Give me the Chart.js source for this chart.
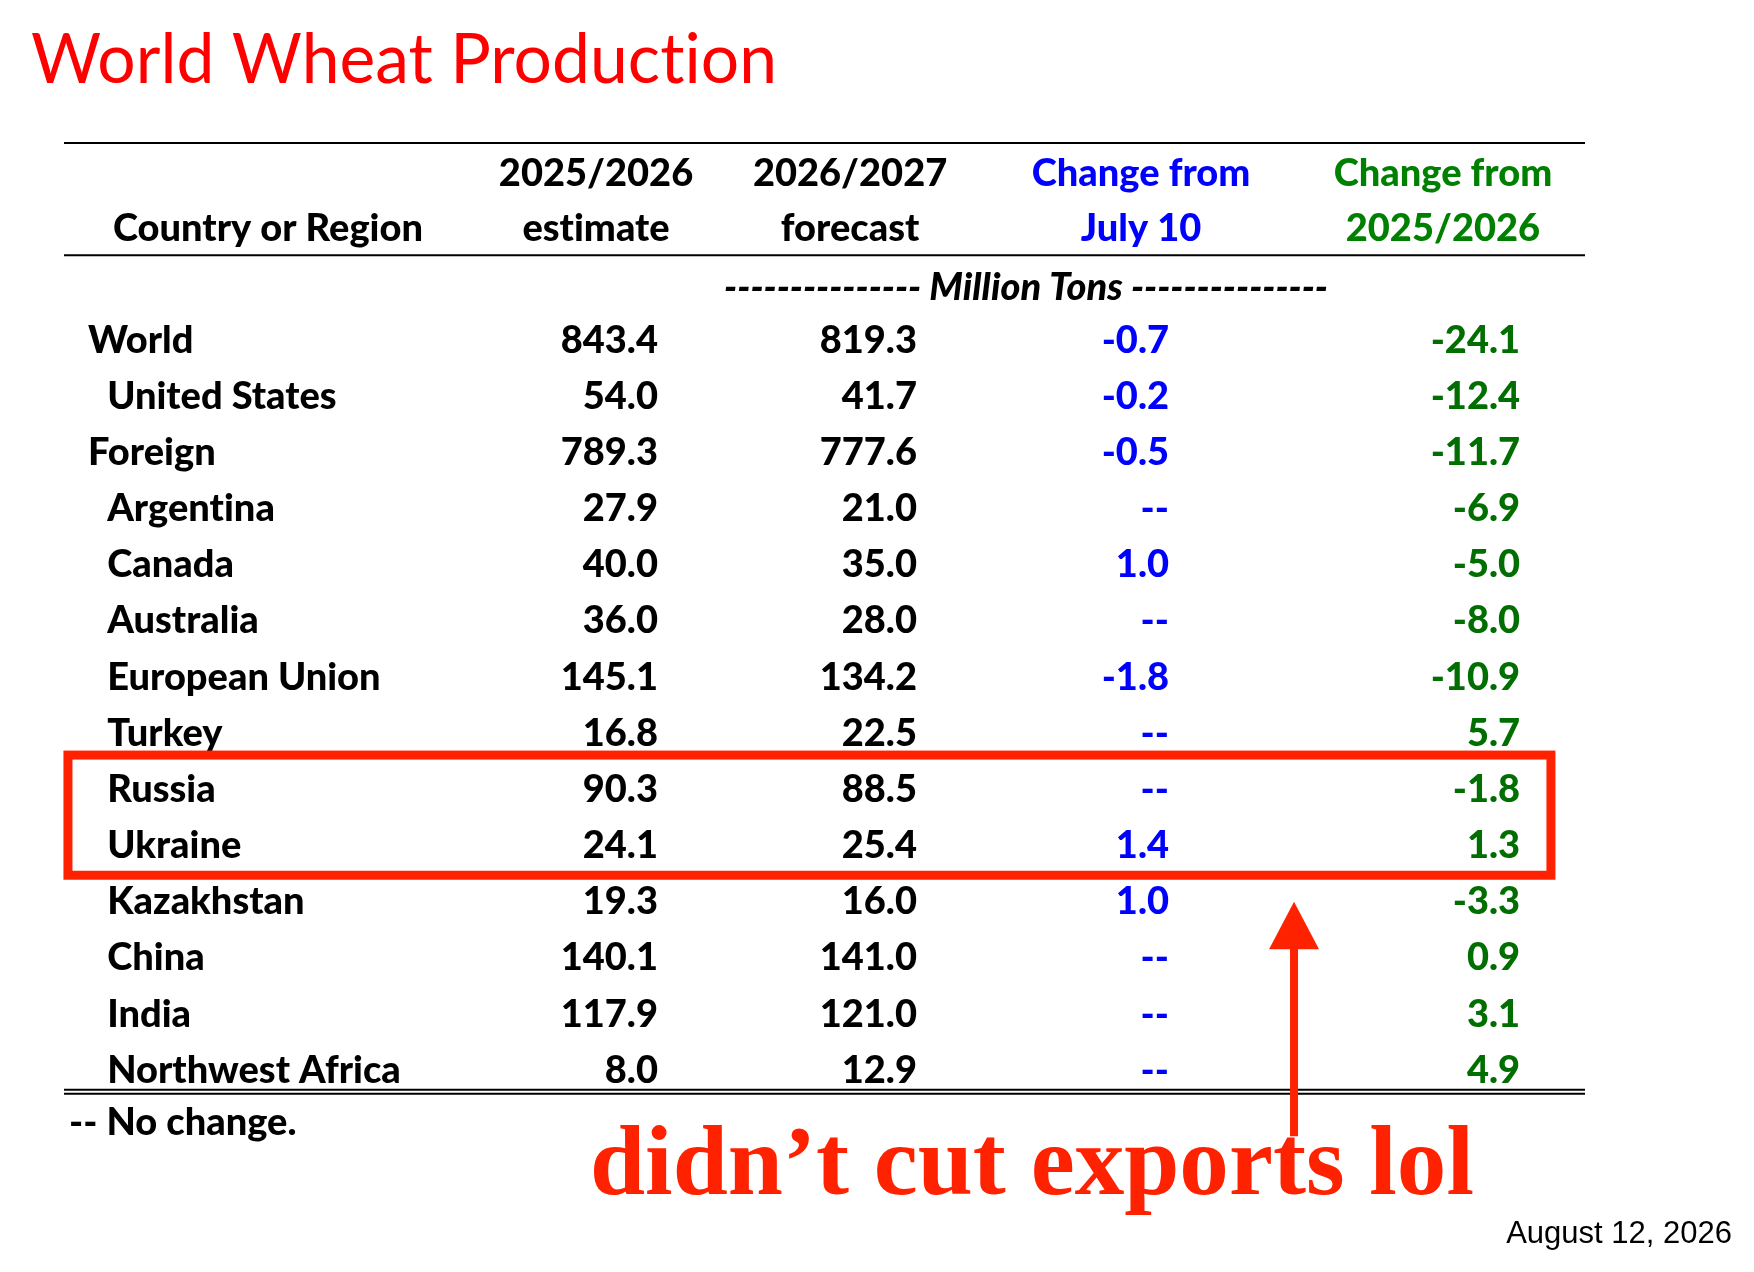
<!DOCTYPE html>
<html>
<head>
<meta charset="utf-8">
<title>World Wheat Production</title>
<script src="https://cdn.jsdelivr.net/npm/chart.js@4.4.1/dist/chart.umd.min.js"></script>
<style>
    html, body { margin: 0; padding: 0; background: #fff; }
    #wrap { width: 1754px; height: 1272px; position: relative; }
</style>
</head>
<body>
<div id="wrap"><canvas id="wheatChart"></canvas></div>
<script>
// Table data, million tons
const regions = ['World', 'United States', 'Foreign', 'Argentina', 'Canada', 'Australia',
    'European Union', 'Turkey', 'Russia', 'Ukraine', 'Kazakhstan', 'China', 'India', 'Northwest Africa'];
const aggregates = ['World', 'Foreign'];
const estimate2526 = [843.4, 54.0, 789.3, 27.9, 40.0, 36.0, 145.1, 16.8, 90.3, 24.1, 19.3, 140.1, 117.9, 8.0];
const forecast2627 = [819.3, 41.7, 777.6, 21.0, 35.0, 28.0, 134.2, 22.5, 88.5, 25.4, 16.0, 141.0, 121.0, 12.9];
const changeJuly10 = [-0.7, -0.2, -0.5, null, 1.0, null, -1.8, null, null, 1.4, 1.0, null, null, null];
const changeYear = [-24.1, -12.4, -11.7, -6.9, -5.0, -8.0, -10.9, 5.7, -1.8, 1.3, -3.3, 0.9, 3.1, 4.9];
const headerTop = ['', '2025/2026', '2026/2027', 'Change from', 'Change from'];
const headerBottom = ['Country or Region', 'estimate', 'forecast', 'July 10', '2025/2026'];
const unitLabel = 'Million Tons';
const highlighted = ['Russia', 'Ukraine'];

// Layout (x in % of table width, y in row units; row 0 = World)
const headerCenter = [13.41, 34.98, 51.68, 70.81, 90.66];
const valueRight = [39.05, 56.08, 72.65, 95.73];
const colColor = ['#000000', '#000000', '#000000', '#0000ff', '#008000'];
const valueColor = ['#000000', '#000000', '#0000ff', '#006e00'];
const BODY = '900 38px Lato';
const RED = '#ff2200';

function fmt(v) {
    return v === null ? '--' : v.toFixed(1);
}

function putText(ctx, str, xp, yp, font, color, align) {
    ctx.font = font;
    ctx.fillStyle = color;
    ctx.textAlign = align;
    ctx.textBaseline = 'alphabetic';
    ctx.fillText(str, xp, yp);
}

const tablePlugin = {
    id: 'wheatTable',
    afterDraw(chart) {
        const ctx = chart.ctx;
        const x = chart.scales.x;
        const y = chart.scales.y;
        const px = v => x.getPixelForValue(v);
        const py = v => y.getPixelForValue(v);
        const cap = 38 * 0.36; // cap-centre to baseline

        ctx.save();
        ctx.letterSpacing = '0.01px'; // keeps Lato from joining "ti"

        // title
        ctx.font = '70px Lato';
        let w = ctx.measureText('World Wheat Production').width;
        ctx.save();
        ctx.translate(px(-2.17), py(-4.56));
        ctx.scale(746 / w, 1);
        putText(ctx, 'World Wheat Production', 0, 0, '70px Lato', '#ff0000', 'left');
        ctx.restore();

        // rules
        ctx.strokeStyle = '#000';
        ctx.lineWidth = 2;
        [-3.49, -1.49, 13.37, 13.44].forEach(r => {
            ctx.beginPath();
            ctx.moveTo(px(0), py(r));
            ctx.lineTo(px(100), py(r));
            ctx.stroke();
        });

        // headers
        headerTop.forEach((t, i) => {
            putText(ctx, t, px(headerCenter[i]), py(-2.97) + cap, BODY, colColor[i], 'center');
        });
        headerBottom.forEach((t, i) => {
            putText(ctx, t, px(headerCenter[i]), py(-1.98) + cap, BODY, colColor[i], 'center');
        });
        const dashes = '---------------';
        putText(ctx, dashes + ' ' + unitLabel + ' ' + dashes, px(63.25), py(-0.94) + cap,
            'italic 900 38px Lato', '#000', 'center');

        // body rows
        const columns = [estimate2526, forecast2627, changeJuly10, changeYear];
        regions.forEach((name, i) => {
            const yb = py(i) + cap;
            const left = aggregates.includes(name) ? 1.58 : 2.84;
            putText(ctx, name, px(left), yb, BODY, '#000', 'left');
            columns.forEach((col, c) => {
                putText(ctx, fmt(col[i]), px(valueRight[c]), yb, BODY, valueColor[c], 'right');
            });
        });

        // footnote
        putText(ctx, '-- No change.', px(0.33), py(13.93) + cap, BODY, '#000', 'left');

        // highlight box round Russia / Ukraine
        const first = regions.indexOf(highlighted[0]);
        const last = regions.indexOf(highlighted[highlighted.length - 1]);
        ctx.strokeStyle = RED;
        ctx.lineWidth = 9;
        ctx.strokeRect(px(0.26), py(first - 0.59), px(97.76) - px(0.26), py(last + 0.55) - py(first - 0.59));

        // arrow
        const ax = px(80.87);
        ctx.lineWidth = 8;
        ctx.beginPath();
        ctx.moveTo(ax, py(14.2));
        ctx.lineTo(ax, py(10.8));
        ctx.stroke();
        ctx.fillStyle = RED;
        ctx.beginPath();
        ctx.moveTo(ax, py(10.02));
        ctx.lineTo(ax - 25, py(10.87));
        ctx.lineTo(ax + 25, py(10.87));
        ctx.closePath();
        ctx.fill();

        // annotation
        const note = 'didn\u2019t cut exports lol';
        const noteFont = 'bold 100px "Liberation Serif"';
        ctx.font = noteFont;
        w = ctx.measureText(note).width;
        ctx.save();
        ctx.translate(px(34.58), py(15.23));
        ctx.scale((px(92.7) - px(34.58)) / w, 1);
        putText(ctx, note, 0, 0, noteFont, RED, 'left');
        ctx.restore();

        // date
        putText(ctx, 'August 12, 2026', px(109.67), py(16.10), '31px "Liberation Sans"', '#000', 'right');

        ctx.restore();
    }
};

const wheatCtx = document.getElementById('wheatChart').getContext('2d');
const wheatChart = new Chart(wheatCtx, {
    type: 'scatter',
    data: { datasets: [] },
    options: {
        responsive: true,
        maintainAspectRatio: false,
        animation: false,
        layout: {
            padding: { left: 64, right: 169, top: 143, bottom: 180 }
        },
        plugins: {
            legend: { display: false },
            tooltip: { enabled: false }
        },
        scales: {
            x: { type: 'linear', min: 0, max: 100, display: false },
            y: { type: 'linear', min: -3.49, max: 13.41, reverse: true, display: false }
        }
    },
    plugins: [tablePlugin]
});
</script>
</body>
</html>
